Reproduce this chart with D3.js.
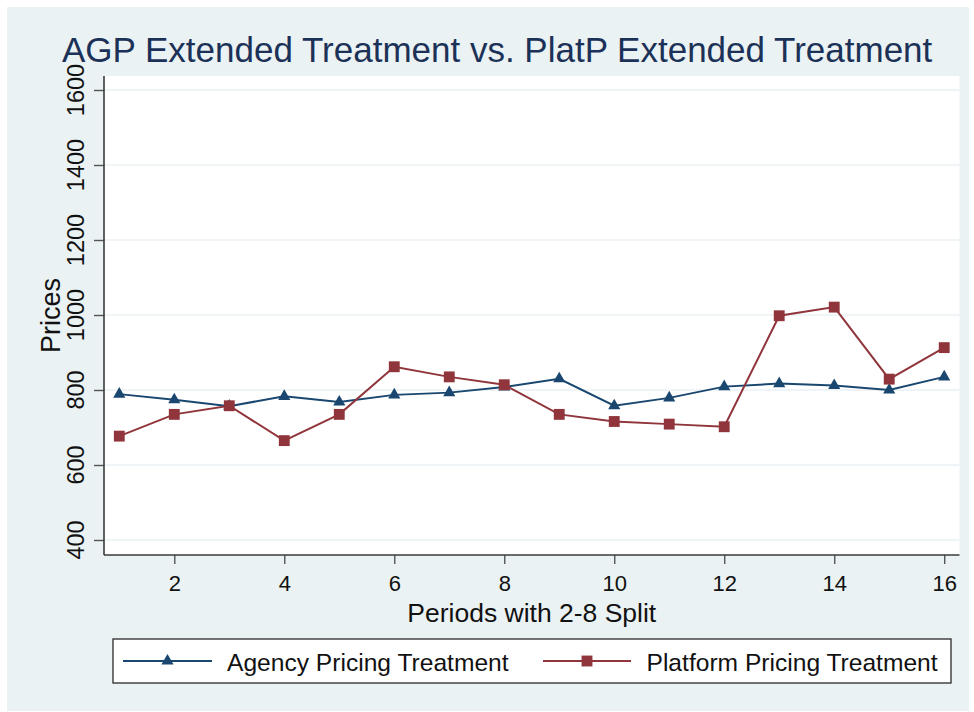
<!DOCTYPE html>
<html>
<head>
<meta charset="utf-8">
<script src="https://cdn.jsdelivr.net/npm/d3@7"></script>
<style>
  html, body { margin: 0; padding: 0; background: #ffffff; }
  svg { display: block; }
  text { font-family: "Liberation Sans", Arial, sans-serif; }
</style>
</head>
<body>
<svg id="chart" width="974" height="712"></svg>
<script>
// ---- data ----
const periods = [1,2,3,4,5,6,7,8,9,10,11,12,13,14,15,16];
const agencyPrices   = [789, 774, 757, 783, 768, 787, 793, 808, 830, 758, 779, 809, 817, 812, 800, 835];
const platformPrices = [677, 735, 758, 665, 735, 862, 835, 814, 735, 716, 709, 702, 998, 1021, 829, 913];
const yTicks = [400, 600, 800, 1000, 1200, 1400, 1600];
const xTicks = [2, 4, 6, 8, 10, 12, 14, 16];
const seriesNames = ["Agency Pricing Treatment", "Platform Pricing Treatment"];
const titleText = "AGP Extended Treatment vs. PlatP Extended Treatment";
const xTitle = "Periods with 2-8 Split";
const yTitle = "Prices";

// ---- layout ----
const svg = d3.select("#chart");
const bg = "#eaf2f3";
const navy = "#1a476f";
const maroon = "#90353b";
const plot = { left: 104, right: 959.5, top: 76, bottom: 555 };

svg.append("rect").attr("x", 7).attr("y", 7).attr("width", 962).attr("height", 704).attr("fill", bg);
svg.append("rect").attr("x", plot.left).attr("y", plot.top)
  .attr("width", plot.right - plot.left).attr("height", plot.bottom - plot.top).attr("fill", "#ffffff");

const x = d3.scaleLinear().domain([1 - 0.278, 16 + 0.278]).range([plot.left, plot.right]);
const y = d3.scaleLinear().domain([400, 1600]).range([540, 90]);

// gridlines
svg.append("g").selectAll("line").data(yTicks).join("line")
  .attr("x1", plot.left).attr("x2", plot.right)
  .attr("y1", d => y(d)).attr("y2", d => y(d))
  .attr("stroke", bg).attr("stroke-width", 1.6);

// y axis
const yAxis = svg.append("g").attr("transform", `translate(${plot.left},0)`)
  .call(d3.axisLeft(y).tickValues(yTicks).tickSize(10).tickFormat(d3.format("d")));
yAxis.select(".domain").remove();
yAxis.selectAll(".tick line").attr("stroke", "#555").attr("stroke-width", 1.4);
yAxis.selectAll(".tick text").remove();
svg.append("g").selectAll("text").data(yTicks).join("text")
  .attr("transform", d => `translate(84,${y(d)}) rotate(-90)`)
  .attr("text-anchor", "middle").attr("font-size", 23.5).attr("fill", "#111")
  .text(d => d);

// x axis
const xAxis = svg.append("g").attr("transform", `translate(0,${plot.bottom})`)
  .call(d3.axisBottom(x).tickValues(xTicks).tickSize(9).tickFormat(d3.format("d")));
xAxis.select(".domain").remove();
xAxis.selectAll(".tick line").attr("stroke", "#555").attr("stroke-width", 1.4);
xAxis.selectAll(".tick text").attr("font-size", 22).attr("fill", "#111")
  .attr("font-family", "Liberation Sans, Arial, sans-serif")
  .attr("y", 36).attr("dy", 0);

// axis lines
svg.append("line").attr("x1", plot.left).attr("x2", plot.left).attr("y1", plot.top).attr("y2", plot.bottom)
  .attr("stroke", "#3a3a3a").attr("stroke-width", 1.6);
svg.append("line").attr("x1", plot.left).attr("x2", plot.right).attr("y1", plot.bottom).attr("y2", plot.bottom)
  .attr("stroke", "#3a3a3a").attr("stroke-width", 1.6);

// titles
svg.append("text").attr("x", 62).attr("y", 62).attr("font-size", 35).attr("fill", "#1c3157").text(titleText);
svg.append("text").attr("x", (plot.left + plot.right) / 2).attr("y", 621.5)
  .attr("text-anchor", "middle").attr("font-size", 26.5).attr("fill", "#111").text(xTitle);
svg.append("text").attr("transform", `translate(60,${(plot.top + plot.bottom) / 2}) rotate(-90)`)
  .attr("text-anchor", "middle").attr("font-size", 27).attr("fill", "#111").text(yTitle);

// series
const series = [
  { name: seriesNames[0], values: agencyPrices, color: navy, symbol: d3.symbolTriangle, size: 64 },
  { name: seriesNames[1], values: platformPrices, color: maroon, symbol: d3.symbolSquare, size: 118 }
];
const line = d3.line().x((d, i) => x(periods[i])).y(d => y(d));
series.forEach(s => {
  svg.append("path").attr("d", line(s.values)).attr("fill", "none")
    .attr("stroke", s.color).attr("stroke-width", 2);
  svg.append("g").selectAll("path").data(s.values).join("path")
    .attr("transform", (d, i) => `translate(${x(periods[i])},${y(d)})`)
    .attr("d", d3.symbol().type(s.symbol).size(s.size)())
    .attr("fill", s.color);
});

// legend
svg.append("rect").attr("x", 113).attr("y", 639).attr("width", 838).attr("height", 44)
  .attr("fill", "#ffffff").attr("stroke", "#2a2a2a").attr("stroke-width", 1.3);
const legendItems = [
  { s: series[0], x1: 123, x2: 212, tx: 227 },
  { s: series[1], x1: 543, x2: 631, tx: 646.5 }
];
legendItems.forEach(li => {
  svg.append("line").attr("x1", li.x1).attr("x2", li.x2).attr("y1", 661).attr("y2", 661)
    .attr("stroke", li.s.color).attr("stroke-width", 2);
  svg.append("path").attr("transform", `translate(${(li.x1 + li.x2) / 2},661)`)
    .attr("d", d3.symbol().type(li.s.symbol).size(li.s.size)()).attr("fill", li.s.color);
  svg.append("text").attr("x", li.tx).attr("y", 670.5).attr("font-size", 24.6).attr("fill", "#111").text(li.s.name);
});
</script>
</body>
</html>
